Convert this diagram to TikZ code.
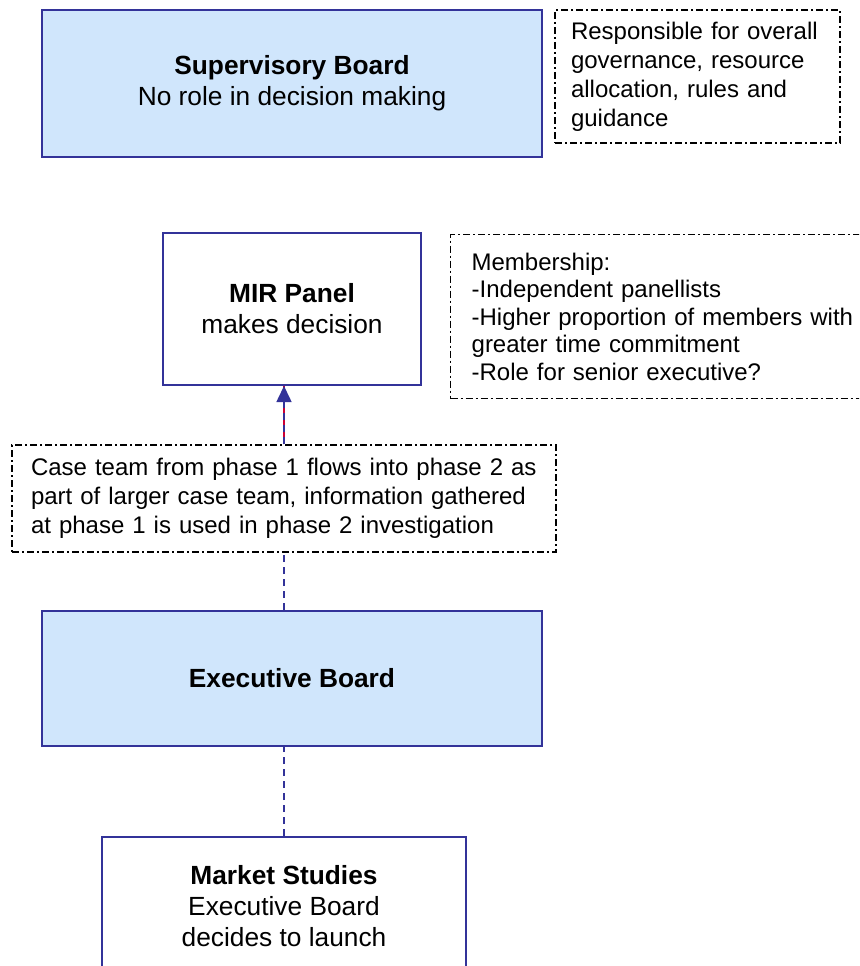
\documentclass[tikz,border=0pt]{standalone}
\usepackage{fontspec}
\setmainfont{Liberation Sans}
\usetikzlibrary{arrows.meta, positioning}
\definecolor{boardline}{RGB}{51,51,153}
\definecolor{boardfill}{RGB}{208,230,252}
\definecolor{linkred}{RGB}{204,0,51}
\tikzset{
  every node/.style={font=\fontsize{24}{29}\selectfont}, % text size of the remarks
  board/.style={rectangle, draw=boardline, line width=2pt, fill=boardfill, align=center, font=\fontsize{26.3}{31}\selectfont}, % blue decision boxes
  panel/.style={board, fill=white}, % white boxes with blue border
  note/.style={rectangle, draw=black, line width=1.3pt, dash pattern=on 7pt off 3pt on 2pt off 3pt, fill=white, align=left, inner ysep=0pt}, % dash-dot remarks
  link/.style={draw=boardline, line width=1.6pt, dash pattern=on 7pt off 5pt}, % dashed connectors
  redlink/.style={draw=linkred, line width=1.6pt, dash pattern=on 7pt off 5pt, dash phase=6pt},
}

\begin{document}
\begin{tikzpicture}[x=1pt, y=-1pt]
  \useasboundingbox (0,0) rectangle (859,966);
  \clip (0,0) rectangle (859,966);

  \node[board, minimum width=500pt, minimum height=147pt] (sup) at (292,83.5)
    {\textbf{Supervisory Board}\\No role in decision making};
  \node[note, inner xsep=16pt, text width=253pt, minimum height=133pt] (resp) at (697.5,76.5)
    {Responsible for overall\\governance, resource\\allocation, rules and\\guidance};

  \node[panel, minimum width=258pt, minimum height=152pt] (mir) at (292,309)
    {\textbf{MIR Panel}\\makes decision};
  \node[note, inner xsep=21pt, text width=418pt, minimum height=164pt, anchor=north west,
        font=\fontsize{24}{27.5}\selectfont] (member) at (450,234)
    {Membership:\\-Independent panellists\\-Higher proportion of members with\\greater time commitment\\-Role for senior executive?};

  \node[note, inner xsep=19pt, text width=506pt, minimum height=107pt] (caseteam) at (284,498.5)
    {Case team from phase 1 flows into phase 2 as\\part of larger case team, information gathered\\at phase 1 is used in phase 2 investigation};

  \node[board, minimum width=500pt, minimum height=135pt] (exec) at (292,678.5)
    {\textbf{Executive Board}};
  \node[panel, minimum width=364pt, minimum height=138pt] (market) at (284,906)
    {\textbf{Market Studies}\\Executive Board\\decides to launch};

  \draw[link] (exec.north -| caseteam.south) -- (caseteam.south);
  \draw[redlink] (caseteam.north) -- (mir.south -| caseteam.north);
  \draw[link, -{Triangle[length=16pt, width=15pt]}] (caseteam.north) -- (mir.south -| caseteam.north);
  \draw[link] (market.north) -- (exec.south -| market.north);
\end{tikzpicture}
\end{document}
